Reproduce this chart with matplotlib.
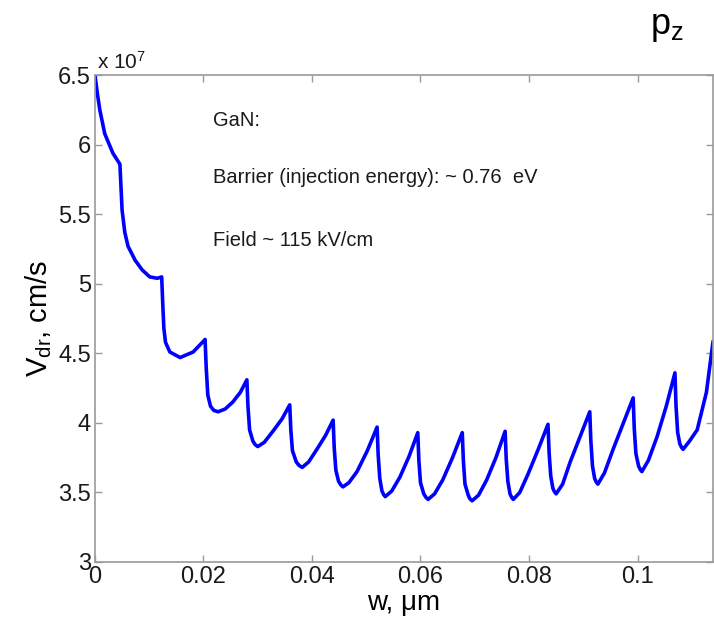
#!/usr/bin/env python
# -*- coding: utf-8 -*-
"""
Drift velocity vs. layer width (GaN), MATLAB-style sawtooth curve.
"""

import matplotlib
matplotlib.use("Agg")
import matplotlib.pyplot as plt

# data: w in um, V_dr in units of 1e7 cm/s
w_um = [0.0000, 0.0004, 0.0009, 0.0018, 0.0033, 0.0046,
        0.0048, 0.0050, 0.0055, 0.0061, 0.0074, 0.0087, 0.0101, 0.0115, 0.0123,
        0.0125, 0.0127, 0.0130, 0.0138, 0.0157, 0.0181, 0.0203,
        0.0205, 0.0208, 0.0213, 0.0219, 0.0227, 0.0240, 0.0254, 0.0268, 0.0280,
        0.0282, 0.0285, 0.0291, 0.0295, 0.0300, 0.0312, 0.0328, 0.0345, 0.0359,
        0.0361, 0.0364, 0.0371, 0.0376, 0.0382, 0.0394, 0.0409, 0.0425, 0.0439,
        0.0441, 0.0444, 0.0449, 0.0453, 0.0457, 0.0468, 0.0483, 0.0502, 0.0520,
        0.0522, 0.0525, 0.0529, 0.0532, 0.0535, 0.0547, 0.0562, 0.0579, 0.0595,
        0.0597, 0.0600, 0.0606, 0.0610, 0.0614, 0.0626, 0.0641, 0.0659, 0.0677,
        0.0679, 0.0682, 0.0688, 0.0691, 0.0695, 0.0707, 0.0722, 0.0739, 0.0756,
        0.0758, 0.0761, 0.0765, 0.0768, 0.0771, 0.0783, 0.0798, 0.0817, 0.0835,
        0.0837, 0.0840, 0.0844, 0.0847, 0.0850, 0.0862, 0.0876, 0.0894, 0.0912,
        0.0914, 0.0917, 0.0921, 0.0924, 0.0927, 0.0939, 0.0955, 0.0974, 0.0992,
        0.0994, 0.0997, 0.1002, 0.1005, 0.1008, 0.1020, 0.1036, 0.1053, 0.1069,
        0.1071, 0.1074, 0.1078, 0.1081, 0.1084, 0.1096, 0.1110, 0.1127, 0.1139]
vdr = [6.50, 6.38, 6.25, 6.08, 5.94, 5.86,
       5.70, 5.53, 5.37, 5.27, 5.17, 5.10, 5.05, 5.04, 5.05,
       4.85, 4.68, 4.58, 4.51, 4.47, 4.51, 4.60,
       4.40, 4.20, 4.12, 4.09, 4.08, 4.10, 4.15, 4.22, 4.31,
       4.12, 3.95, 3.87, 3.845, 3.83, 3.86, 3.94, 4.03, 4.13,
       3.95, 3.80, 3.72, 3.695, 3.68, 3.72, 3.81, 3.91, 4.02,
       3.82, 3.66, 3.58, 3.555, 3.54, 3.57, 3.65, 3.80, 3.97,
       3.77, 3.60, 3.51, 3.485, 3.47, 3.51, 3.61, 3.76, 3.93,
       3.73, 3.57, 3.49, 3.465, 3.45, 3.49, 3.59, 3.75, 3.93,
       3.73, 3.56, 3.48, 3.455, 3.44, 3.48, 3.59, 3.75, 3.94,
       3.74, 3.58, 3.49, 3.465, 3.45, 3.50, 3.63, 3.81, 3.99,
       3.79, 3.62, 3.53, 3.505, 3.49, 3.56, 3.72, 3.90, 4.08,
       3.87, 3.69, 3.60, 3.575, 3.56, 3.64, 3.81, 4.00, 4.18,
       3.96, 3.78, 3.69, 3.665, 3.65, 3.73, 3.90, 4.12, 4.36,
       4.12, 3.93, 3.85, 3.825, 3.81, 3.87, 3.95, 4.22, 4.58]

xticks = [0, 0.02, 0.04, 0.06, 0.08, 0.1]
xticklabels = ["0", "0.02", "0.04", "0.06", "0.08", "0.1"]
yticks = [3, 3.5, 4, 4.5, 5, 5.5, 6, 6.5]
yticklabels = ["3", "3.5", "4", "4.5", "5", "5.5", "6", "6.5"]
notes = ["GaN:",
         "Barrier (injection energy): ~ 0.76  eV",
         "Field ~ 115 kV/cm"]


def plot(fout="out.png"):
    plt.rcParams["font.family"] = ["Liberation Sans", "DejaVu Sans"]
    plt.rcParams["mathtext.fontset"] = "custom"
    plt.rcParams["mathtext.rm"] = "Liberation Sans"
    plt.rcParams["mathtext.it"] = "Liberation Sans"

    fig = plt.figure(figsize=(7.14, 6.27), dpi=100)
    ax = fig.add_axes([0.133, 0.1037, 0.8655, 0.7763])

    ax.plot(w_um, vdr, color="#0000ff", lw=2.6, solid_joinstyle="round")

    ax.set_xlim(0, 0.1139)
    ax.set_ylim(3, 6.5)
    ax.set_xticks(xticks)
    ax.set_xticklabels(xticklabels)
    ax.set_yticks(yticks)
    ax.set_yticklabels(yticklabels)

    for sp in ax.spines.values():
        sp.set_color("#9a9a9a")
        sp.set_linewidth(1.2)
    ax.tick_params(direction="in", length=5, width=1, color="#9a9a9a",
                   top=True, right=True, labelsize=17, labelcolor="#1a1a1a",
                   pad=3)

    ax.set_xlabel("w, \u03bcm", fontsize=20, labelpad=1)
    ax.set_ylabel(r"V$_{\mathregular{dr}}$, cm/s", fontsize=21, labelpad=3)

    ax.text(0.003, 1.005, r"x 10$^{\mathregular{7}}$", transform=ax.transAxes,
            fontsize=15, ha="left", va="bottom", color="#1a1a1a")

    for txt, yy in zip(notes, [0.908, 0.789, 0.661]):
        ax.text(0.191, yy, txt, transform=ax.transAxes, fontsize=14.5,
                ha="left", va="center", color="#1a1a1a")

    fig.text(0.911, 0.945, r"p$_{\mathregular{z}}$", fontsize=26,
             ha="left", va="baseline")

    plt.savefig(fout, dpi=100)
    plt.close()


if __name__ == "__main__":
    plot()
